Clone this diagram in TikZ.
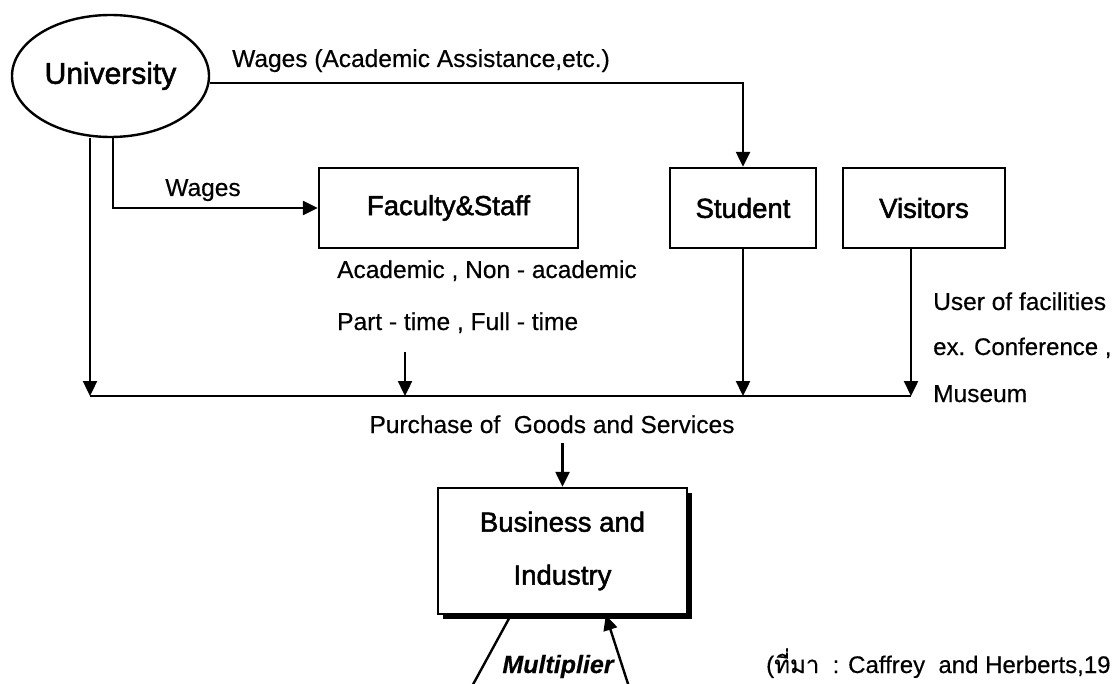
\documentclass[tikz,border=0pt]{standalone}
\usepackage{fontspec}
\setmainfont{Liberation Sans}[FakeBold=0.4]
\newfontfamily\thaifont[Script=Thai,FakeBold=0.4]{Loma}
\newfontfamily\boxfont[FakeBold=1.8]{Liberation Sans}
\usetikzlibrary{arrows.meta,shapes.geometric,shadows}
\begin{document}
\begin{tikzpicture}[x=1pt,y=-1pt,
  line width=2.4pt,
  arr/.style={-{Triangle[length=15pt,width=14pt]}},
  lbl/.style={font=\fontsize{24.5}{30}\selectfont, inner sep=0pt},
  box/.style={draw, line width=2.4pt, inner sep=0pt, fill=white,
              font=\boxfont\fontsize{27.5}{33}\selectfont}]
\path[use as bounding box, clip] (0,0) rectangle (1115,684);
\fill[white] (0,0) rectangle (1115,684);

% nodes
\node[draw, ellipse, minimum width=197pt, minimum height=122pt, inner sep=0pt,
      font=\boxfont\fontsize{30}{36}\selectfont] (University) at (110.5,76) {University};
\node[box, minimum width=259pt, minimum height=80pt] (Faculty) at (448.5,208) {Faculty\&Staff};
\node[box, minimum width=146pt, minimum height=80pt] (Student) at (743,208) {Student};
\node[box, minimum width=162pt, minimum height=80pt] (Visitors) at (924,208) {Visitors};
\node[box, minimum width=249pt, minimum height=126pt, align=center,
      font=\boxfont\fontsize{27.5}{53}\selectfont,
      drop shadow={shadow xshift=4.5pt, shadow yshift=-4.5pt, fill=black, opacity=1}]
      (Business) at (562.5,551) {Business and\\Industry};

% labels
\node[lbl, anchor=base west] (wagesAA) at (231,67) {Wages (Academic Assistance,etc.)};
\node[lbl, anchor=base] (wages) at (203,196) {Wages};
\node[lbl, anchor=base west] (acad) at (336,278) {Academic , Non - academic};
\node[lbl, anchor=base west] (part) at (336,330) {Part - time , Full - time};
\node[lbl, anchor=base west] (user) at (932,310) {User of facilities};
\node[lbl, anchor=base west, font=\fontsize{24}{30}\selectfont] (conf) at (932,355) {ex. Conference ,};
\node[lbl, anchor=base west] (mus) at (932,402) {Museum};
\node[lbl, anchor=base] (purchase) at (552,433) {Purchase of\ \ Goods and Services};
\node[lbl, anchor=base, font=\bfseries\itshape\fontsize{25}{30}\selectfont] (mult) at (558,673) {Multiplier};
\node[lbl, anchor=base west, font=\fontsize{24}{30}\selectfont] (src) at (765,673) {({\thaifont ที่มา}\ \ : Caffrey\ \ and Herberts,19};

% coordinates
\coordinate (L) at (90,396);
\coordinate (R) at (911,396);
\coordinate (P) at (405,352);
\coordinate (PL) at (405,396);
\coordinate (Q) at (562.5,443);
\coordinate (ml) at (470,690);
\coordinate (mr) at (630,690);

% connectors
\draw[arr] (University.-4.1) -| (Student.north);
\draw[arr] ([xshift=-20.5pt]University.south) -- (L);
\draw[arr] ([xshift=2.5pt]University.south) |- (Faculty.west);
\draw (L) -- (R);
\draw[arr] (P) -- (PL);
\draw[arr] (Student.south) -- (Student.south |- L);
\draw[arr] ([xshift=-13pt]Visitors.south) -- (R);
\draw[arr] (Q) -- (Business.north);
\draw ([xshift=74pt]Business.south west) -- (ml);
\draw[arr] (mr) -- ([xshift=169pt]Business.south west);
\end{tikzpicture}
\end{document}
